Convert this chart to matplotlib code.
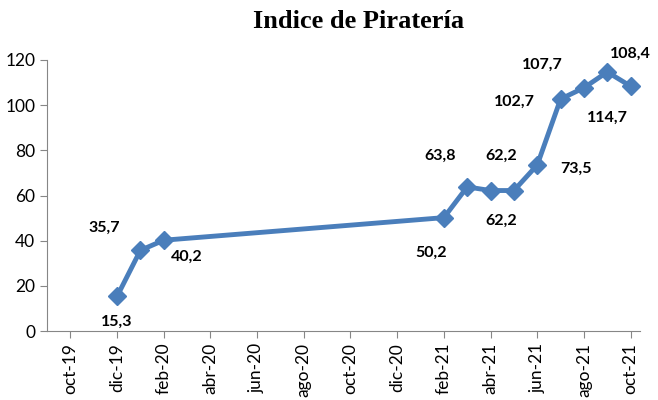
import matplotlib.pyplot as plt

month_order = ["ene", "feb", "mar", "abr", "may", "jun", "jul", "ago", "sep", "oct", "nov", "dic"]
tick_labels = ["oct-19", "dic-19", "feb-20", "abr-20", "jun-20", "ago-20", "oct-20",
               "dic-20", "feb-21", "abr-21", "jun-21", "ago-21", "oct-21"]

dates = ["dic-19", "ene-20", "feb-20", "feb-21", "mar-21", "abr-21", "may-21",
         "jun-21", "jul-21", "ago-21", "sep-21", "oct-21"]
values = [15.3, 35.7, 40.2, 50.2, 63.8, 62.2, 62.2, 73.5, 102.7, 107.7, 114.7, 108.4]
point_labels = ["15,3", "35,7", "40,2", "50,2", "63,8", "62,2", "62,2", "73,5",
                "102,7", "107,7", "114,7", "108,4"]
# label offsets in pixels (as placed in the original chart)
offsets = [(0, -25), (-36, 23), (23, -17), (-13, -35), (-27, 31), (11, 35), (-13, -30),
           (39, -4), (-46, -3), (-42, 23), (0, -46), (0, 32)]


def to_x(s):
    # months since oct-19
    m, y = s.split("-")
    return (int(y) - 19) * 12 + month_order.index(m) - 9


xs = [to_x(d) for d in dates]
ticks = [to_x(t) for t in tick_labels]

blue = "#4A7EBB"

fig = plt.figure(figsize=(6.58, 4.0), dpi=100)
ax = fig.add_axes([0.0714, 0.1725, 0.9012, 0.6775])

ax.plot(xs, values, color=blue, linewidth=3.5, marker="D", markersize=9,
        markerfacecolor=blue, markeredgecolor=blue, solid_joinstyle="round")

for x, v, lab, off in zip(xs, values, point_labels, offsets):
    ax.annotate(lab, (x, v), xytext=off, textcoords="offset pixels",
                ha="center", va="center", fontsize=11.5, fontweight="bold",
                family="Lato")

ax.set_xlim(-1, 24.4)
ax.set_ylim(0, 120)
ax.set_yticks(range(0, 121, 20))
ax.set_xticks(ticks)
ax.set_xticklabels(tick_labels, rotation=90, family="Lato", fontsize=12.5)
for t in ax.get_yticklabels():
    t.set_family("Lato")
    t.set_fontsize(12.5)

ax.spines["top"].set_visible(False)
ax.spines["right"].set_visible(False)
ax.spines["left"].set_color("#868686")
ax.spines["bottom"].set_color("#868686")
ax.tick_params(axis="both", colors="#868686", labelcolor="black", length=5)

fig.suptitle("Indice de Piratería", x=0.545, y=0.975, fontsize=19, fontweight="bold",
             family="Liberation Serif")

plt.savefig("out.png")
